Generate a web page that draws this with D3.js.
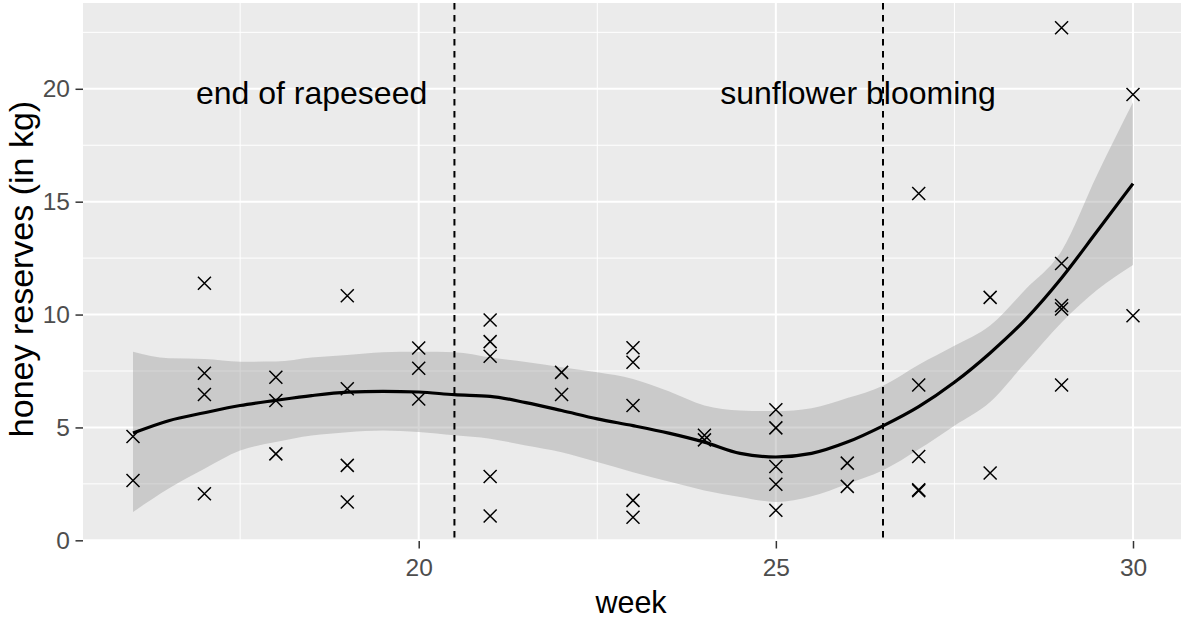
<!DOCTYPE html>
<html lang="en">
<head>
    <meta charset="utf-8">
    <title>honey reserves</title>
    <script src="https://cdn.jsdelivr.net/npm/d3@7"></script>
</head>
<style>
body { margin: 0; background: #fff; }
text { font-family: "Liberation Sans", Arial, sans-serif; }
</style>
<body>
<script type="text/javascript">
    // observed hives: week and honey reserves (kg)
    var weeks = [16, 16,
                 17, 17, 17, 17,
                 18, 18, 18,
                 19, 19, 19, 19,
                 20, 20, 20,
                 21, 21, 21, 21, 21,
                 22, 22,
                 23, 23, 23, 23, 23,
                 24, 24,
                 25, 25, 25, 25, 25,
                 26, 26,
                 27, 27, 27, 27, 27,
                 28, 28,
                 29, 29, 29, 29, 29,
                 30, 30];
    var reserves = [4.60, 2.65,
                    11.39, 7.40, 6.46, 2.06,
                    7.22, 6.19, 3.83,
                    10.83, 6.71, 3.32, 1.70,
                    8.52, 7.62, 6.26,
                    9.76, 8.80, 8.15, 2.83, 1.08,
                    7.44, 6.46,
                    8.53, 7.89, 5.97, 1.77, 1.02,
                    4.65, 4.45,
                    5.78, 4.98, 3.27, 2.48, 1.33,
                    3.42, 2.39,
                    15.36, 6.88, 3.71, 2.24, 2.20,
                    10.76, 2.98,
                    22.70, 12.26, 10.40, 10.25, 6.88,
                    19.75, 9.95];

    // loess fit with confidence band
    var fitWeek  = [16, 16.5, 17, 17.5, 18, 18.5, 19, 19.5, 20, 20.5, 21, 21.5, 22, 22.5, 23,
                    23.5, 24, 24.5, 25, 25.5, 26, 26.5, 27, 27.5, 28, 28.5, 29, 29.5, 30];
    var fitMean  = [4.75, 5.30, 5.65, 5.97, 6.20, 6.41, 6.56, 6.60, 6.57, 6.45, 6.38, 6.10, 5.75, 5.38, 5.08,
                    4.75, 4.35, 3.85, 3.69, 3.85, 4.35, 5.07, 5.92, 7.00, 8.30, 9.80, 11.62, 13.70, 15.80];
    var fitLower = [1.25, 2.29, 3.17, 3.98, 4.35, 4.64, 4.79, 4.86, 4.80, 4.65, 4.50, 4.20, 3.90, 3.47, 3.02,
                    2.60, 2.21, 1.92, 1.70, 1.95, 2.50, 3.10, 4.03, 5.08, 6.13, 7.89, 9.65, 11.10, 12.20];
    var fitUpper = [8.35, 8.06, 8.03, 7.91, 7.92, 8.10, 8.21, 8.33, 8.35, 8.33, 8.10, 7.90, 7.67, 7.44, 7.15,
                    6.60, 5.97, 5.75, 5.72, 5.85, 6.30, 6.85, 7.78, 8.62, 9.52, 11.13, 12.82, 16.20, 19.40];

    var breakWeeks = [20.5, 26.5];
    var labels = [{week: 18.5, value: 20, text: "end of rapeseed"},
                  {week: 26.15, value: 20, text: "sunflower blooming"}];

    var xTicks = [20, 25, 30], xMinor = [17.5, 22.5, 27.5];
    var yTicks = [0, 5, 10, 15, 20], yMinor = [2.5, 7.5, 12.5, 17.5, 22.5];

    var width = 1181, height = 619;
    var pLeft = 83, pRight = 1183, pTop = 3, pBottom = 541;

    var svg = d3.select("body")
            .append("svg")
            .attr("width", width)
            .attr("height", height);

    var x = d3.scaleLinear().domain([15.3, 30.7]).range([pLeft, pRight]);
    var y = d3.scaleLinear().domain([-0.03, 23.8]).range([pBottom, pTop]);

    svg.append("clipPath").attr("id", "panel")
        .append("rect")
        .attr("x", pLeft).attr("y", pTop)
        .attr("width", pRight - pLeft).attr("height", pBottom - pTop);

    var panel = svg.append("g").attr("clip-path", "url(#panel)");

    panel.append("rect")
        .attr("x", pLeft).attr("y", pTop)
        .attr("width", pRight - pLeft).attr("height", pBottom - pTop)
        .attr("fill", "#EBEBEB");

    //网格线
    panel.selectAll(".ymin").data(yMinor).enter().append("line")
        .attr("x1", pLeft).attr("x2", pRight)
        .attr("y1", y).attr("y2", y)
        .attr("stroke", "#fff").attr("stroke-width", 1);
    panel.selectAll(".xmin").data(xMinor).enter().append("line")
        .attr("y1", pTop).attr("y2", pBottom)
        .attr("x1", x).attr("x2", x)
        .attr("stroke", "#fff").attr("stroke-width", 1);
    panel.selectAll(".ymaj").data(yTicks).enter().append("line")
        .attr("x1", pLeft).attr("x2", pRight)
        .attr("y1", y).attr("y2", y)
        .attr("stroke", "#fff").attr("stroke-width", 2);
    panel.selectAll(".xmaj").data(xTicks).enter().append("line")
        .attr("y1", pTop).attr("y2", pBottom)
        .attr("x1", x).attr("x2", x)
        .attr("stroke", "#fff").attr("stroke-width", 2);

    var fit = fitWeek.map(function(w, i) {
        return {week: w, mean: fitMean[i], lo: fitLower[i], hi: fitUpper[i]};
    });

    //置信带
    panel.append("path")
        .datum(fit)
        .attr("d", d3.area()
            .curve(d3.curveMonotoneX)
            .x(function(d) { return x(d.week); })
            .y0(function(d) { return y(d.lo); })
            .y1(function(d) { return y(d.hi); }))
        .attr("fill", "#999999")
        .attr("fill-opacity", 0.4);

    //散点 (x shape)
    var pts = weeks.map(function(w, i) { return {week: w, value: reserves[i]}; });
    var r = 6.5;
    panel.selectAll(".pt").data(pts).enter().append("path")
        .attr("d", function(d) {
            var cx = x(d.week), cy = y(d.value);
            return "M" + (cx - r) + "," + (cy - r) + "L" + (cx + r) + "," + (cy + r) +
                   "M" + (cx - r) + "," + (cy + r) + "L" + (cx + r) + "," + (cy - r);
        })
        .attr("stroke", "#000")
        .attr("stroke-width", 1.5)
        .attr("fill", "none");

    //拟合线
    panel.append("path")
        .datum(fit)
        .attr("d", d3.line()
            .curve(d3.curveMonotoneX)
            .x(function(d) { return x(d.week); })
            .y(function(d) { return y(d.mean); }))
        .attr("fill", "none")
        .attr("stroke", "#000")
        .attr("stroke-width", 3.2);

    panel.selectAll(".vline").data(breakWeeks).enter().append("line")
        .attr("x1", x).attr("x2", x)
        .attr("y1", pTop).attr("y2", pBottom)
        .attr("stroke", "#000")
        .attr("stroke-width", 2)
        .attr("stroke-dasharray", "6.5,5.5");

    panel.selectAll(".note").data(labels).enter().append("text")
        .attr("x", function(d) { return x(d.week); })
        .attr("y", function(d) { return y(d.value); })
        .attr("dy", "0.47em")
        .attr("text-anchor", "middle")
        .attr("font-size", "32px")
        .attr("fill", "#000")
        .text(function(d) { return d.text; });

    //坐标轴
    var xAxis = svg.append("g")
        .attr("transform", "translate(0," + pBottom + ")")
        .call(d3.axisBottom(x).tickValues(xTicks).tickSize(7.5).tickPadding(10));
    var yAxis = svg.append("g")
        .attr("transform", "translate(" + pLeft + ",0)")
        .call(d3.axisLeft(y).tickValues(yTicks).tickSize(7.5).tickPadding(5.5));

    [xAxis, yAxis].forEach(function(a) {
        a.select(".domain").remove();
        a.selectAll("line").attr("stroke", "#333333").attr("stroke-width", 1.5);
        a.selectAll("text")
            .attr("fill", "#4D4D4D")
            .attr("font-size", "24.5px")
            .attr("font-family", "Liberation Sans, Arial, sans-serif");
    });

    svg.append("text")
        .attr("x", (pLeft + pRight) / 2 - 2)
        .attr("y", 612.5)
        .attr("text-anchor", "middle")
        .attr("font-size", "30.5px")
        .attr("fill", "#000")
        .text("week");

    svg.append("text")
        .attr("transform", "translate(33,269) rotate(-90)")
        .attr("text-anchor", "middle")
        .attr("font-size", "34px")
        .attr("fill", "#000")
        .text("honey reserves (in kg)");
</script>
</body>
</html>
